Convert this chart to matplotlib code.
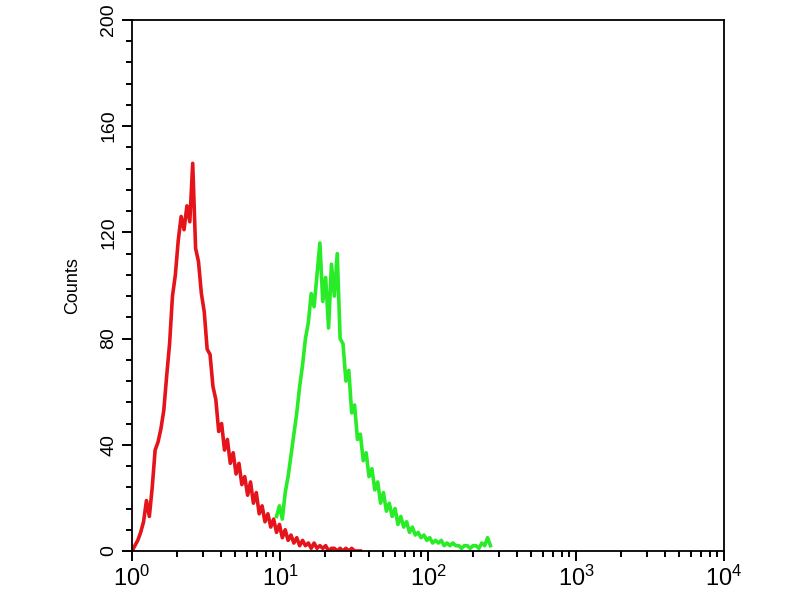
import matplotlib.pyplot as plt
import matplotlib.ticker as mticker
import numpy as np

plt.rcParams['font.family'] = ['Liberation Sans', 'DejaVu Sans']
plt.rcParams['mathtext.fontset'] = 'custom'
plt.rcParams['mathtext.rm'] = 'Liberation Sans'
plt.rcParams['mathtext.it'] = 'Liberation Sans'

# channel numbers on a 1024-channel, 4-decade log scale (256 channels/decade)
red_channels = [0, 5, 10, 15, 20, 25, 30, 35, 40, 45, 50, 55, 60, 65, 70, 75,
                80, 85, 90, 95, 100, 105, 110, 115, 120, 125, 130, 135, 140,
                145, 150, 155, 160, 165, 170, 175, 180, 185, 190, 195, 200,
                205, 210, 215, 220, 225, 230, 235, 240, 245, 250, 255, 260,
                265, 270, 275, 280, 285, 290, 295, 300, 305, 310, 315, 320,
                325, 330, 335, 340, 345, 350, 355, 360, 365, 370, 375, 380,
                385, 390, 395]
red_counts = [0, 2, 4, 7, 11, 19, 13, 24, 38, 41, 46, 53, 66, 78, 96, 104,
              117, 126, 121, 130, 124, 146, 114, 109, 97, 90, 76, 74, 62,
              57, 45, 48, 38, 42, 33, 37, 29, 33, 25, 28, 21,
              26, 18, 22, 14, 17, 11, 14, 9, 12, 7, 10, 5,
              8, 4, 6, 3, 5, 2, 4, 2, 3, 1, 3, 1,
              2, 1, 2, 0, 1, 1, 0, 1, 0, 1, 0, 1,
              0, 0, 0]

green_channels = [250, 255, 260, 265, 270, 275, 280, 285, 290, 295, 300, 305,
                  310, 315, 320, 325, 330, 335, 340, 345, 350, 355, 360, 365,
                  370, 375, 380, 385, 390, 395, 400, 405, 410, 415, 420, 425,
                  430, 435, 440, 445, 450, 455, 460, 465, 470, 475, 480, 485,
                  490, 495, 500, 505, 510, 515, 520, 525, 530, 535, 540, 545,
                  550, 555, 560, 565, 570, 575, 580, 585, 590, 595, 600, 605,
                  610, 615, 620]
green_counts = [13, 17, 12, 22, 28, 36, 44, 52, 62, 70, 80, 86,
                97, 92, 104, 116, 94, 103, 84, 108, 96, 112, 80, 78,
                64, 68, 52, 55, 42, 44, 34, 37, 28, 31, 23, 26,
                18, 22, 15, 18, 13, 16, 10, 13, 9, 11, 7, 9,
                6, 7, 5, 6, 4, 5, 3, 4, 3, 4, 2, 3,
                2, 3, 2, 2, 1, 2, 2, 1, 2, 2, 1, 3,
                2, 5, 2]

red_x = 10 ** (np.array(red_channels) / 256)
green_x = 10 ** (np.array(green_channels) / 256)

fig = plt.figure(figsize=(8, 6), dpi=100)
ax = fig.add_axes([0.165, 0.0817, 0.74, 0.885])

ax.plot(red_x, red_counts, color='#e4141a', lw=2.6)
ax.plot(green_x, green_counts, color='#28ec28', lw=2.6)

ax.set_xscale('log')
ax.set_xlim(1, 10000)
ax.set_ylim(0, 200)

ax.xaxis.set_major_locator(mticker.LogLocator(base=10, numticks=10))
ax.xaxis.set_minor_locator(mticker.LogLocator(base=10, subs=np.arange(2, 10), numticks=20))
ax.xaxis.set_minor_formatter(mticker.NullFormatter())
ax.yaxis.set_major_locator(mticker.MultipleLocator(40))
ax.yaxis.set_minor_locator(mticker.MultipleLocator(8))

ax.tick_params(which='both', direction='out', width=1.4, colors='black')
ax.tick_params(which='major', length=7, labelsize=17)
ax.tick_params(which='minor', length=4)
ax.tick_params(axis='y', which='major', labelsize=14)
for lab in ax.get_yticklabels():
    lab.set_rotation(90)
    lab.set_va('center')

for s in ax.spines.values():
    s.set_linewidth(1.3)

ax.set_ylabel('Counts', fontsize=13, labelpad=14)

fig.savefig('out.png', dpi=100)
